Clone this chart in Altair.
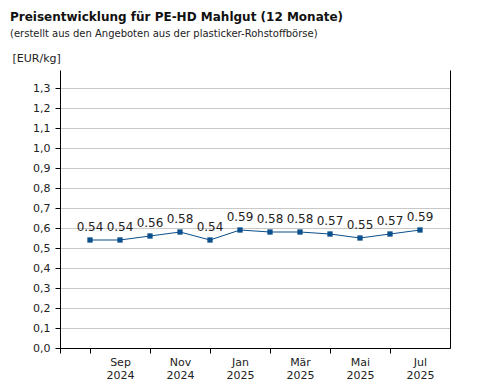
import altair as alt
import pandas as pd

# Data
months = ["Aug 2024", "Sep 2024", "Okt 2024", "Nov 2024", "Dez 2024", "Jan 2025",
          "Feb 2025", "Mär 2025", "Apr 2025", "Mai 2025", "Jun 2025", "Jul 2025"]
prices = [0.54, 0.54, 0.56, 0.58, 0.54, 0.59, 0.58, 0.58, 0.57, 0.55, 0.57, 0.59]
label_months = ["Sep", "Nov", "Jan", "Mär", "Mai", "Jul"]
label_years = ["2024", "2024", "2025", "2025", "2025", "2025"]
y_ticks = [0.0, 0.1, 0.2, 0.3, 0.4, 0.5, 0.6, 0.7, 0.8, 0.9, 1.0, 1.1, 1.2, 1.3]

df = pd.DataFrame({
    "idx": list(range(1, len(months) + 1)),
    "monat": months,
    "preis": prices,
    "lbl": [f"{p:.2f}" for p in prices],
})

# label expression: index -> two-line label
pairs = {}
for m, yv in zip(label_months, label_years):
    key = m + " " + yv
    if key in months:
        pairs[months.index(key) + 1] = (m, yv)
arr = []
for i in range(0, 14):
    if i in pairs:
        arr.append("['%s','%s']" % pairs[i])
    else:
        arr.append("''")
label_expr = "[" + ",".join(arr) + "][datum.value]"

FONT = "DejaVu Sans"
COLOR = "#0b4f8c"

x_scale = alt.Scale(domain=[0, 13], nice=False, zero=False)
y_scale = alt.Scale(domain=[0, 1.39], nice=False)

x_axis = alt.Axis(
    values=list(range(0, 13)),
    labelExpr=label_expr,
    tickOpacity={"expr": "(datum.value % 2 == 1 || datum.value == 0) ? 1 : 0"},
    tickSize=5, tickColor="black", domainColor="black",
    labelFont=FONT, labelFontSize=11, labelColor="#222",
    labelPadding=3, labelLineHeight=13, labelAngle=0,
    grid=False, title=None,
)

y_axis = alt.Axis(
    values=y_ticks,
    labelExpr="replace(format(datum.value, '.1f'), '.', ',')",
    tickSize=5, tickColor="black", domainColor="black",
    labelFont=FONT, labelFontSize=11, labelColor="#222", labelPadding=5,
    grid=True, gridColor="#c8c8c8",
    title="[EUR/kg]", titleAngle=0, titleAlign="left", titleBaseline="alphabetic",
    titleX=-48, titleY=-9, titleFont=FONT, titleFontSize=11,
    titleFontWeight="normal", titleColor="#222",
)

base = alt.Chart(df)

line = base.mark_line(color=COLOR, strokeWidth=1).encode(
    x=alt.X("idx:Q", scale=x_scale, axis=x_axis),
    y=alt.Y("preis:Q", scale=y_scale, axis=y_axis),
)

points = base.mark_point(shape="square", filled=True, size=28, color=COLOR, opacity=1).encode(
    x=alt.X("idx:Q", scale=x_scale, axis=None),
    y=alt.Y("preis:Q", scale=y_scale,
            axis=alt.Axis(orient="right", labels=False, ticks=False, grid=False,
                          domainColor="black", title=None)),
)

text = base.mark_text(dy=-13, font=FONT, fontSize=12, color="#222").encode(
    x=alt.X("idx:Q", scale=x_scale, axis=None),
    y=alt.Y("preis:Q", scale=y_scale, axis=None),
    text="lbl:N",
)

chart = alt.layer(line, points, text).resolve_axis(y="independent", x="independent").properties(
    width=390, height=278,
    autosize=alt.AutoSizeParams(type="none"),
    padding={"left": 52, "top": 62, "right": 20, "bottom": 40},
    background="white",
    title=alt.TitleParams(
        text="Preisentwicklung für PE-HD Mahlgut (12 Monate)",
        subtitle="(erstellt aus den Angeboten aus der plasticker-Rohstoffbörse)",
        anchor="start", frame="group", dx=-50,
        font=FONT, fontSize=12, fontWeight="bold", color="#111",
        subtitleFont=FONT, subtitleFontSize=10, subtitleColor="#222",
        subtitlePadding=5, offset=12,
    ),
).configure_view(stroke=None)

chart.save("out.html", embed_options={"renderer": "svg", "actions": False})
